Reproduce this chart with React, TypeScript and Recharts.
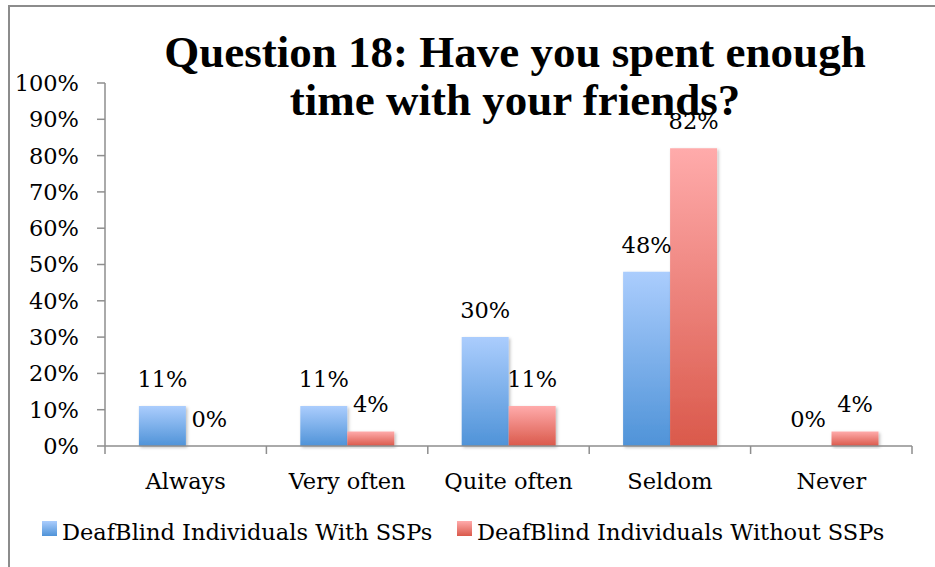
import React from 'react';
import { BarChart, Bar, XAxis, YAxis, LabelList } from 'recharts';

const categories = ['Always', 'Very often', 'Quite often', 'Seldom', 'Never'];
const withSSPs = [0.11, 0.11, 0.3, 0.48, 0.0];
const withoutSSPs = [0.0, 0.04, 0.11, 0.82, 0.04];
const seriesNames = ['DeafBlind Individuals With SSPs', 'DeafBlind Individuals Without SSPs'];
const yTicks = [0, 0.1, 0.2, 0.3, 0.4, 0.5, 0.6, 0.7, 0.8, 0.9, 1.0];
const titleLines = ['Question 18: Have you spent enough', 'time with your friends?'];

const data = categories.map((c, i) => ({ name: c, with: withSSPs[i], without: withoutSSPs[i] }));

const W = 935;
const H = 567;
const LEFT = 105;
const RIGHT = 23;
const PLOT_W = W - LEFT - RIGHT;
const HALF_BAND = PLOT_W / categories.length / 2;
const AXIS_COLOR = '#8e8e8e';
const FONT = '"DejaVu Serif", serif';
const FS = 22.5;

const pct = (v: number) => `${Math.round(v * 100)}%`;
// keep zero-value bars in the layout (invisible sliver) so their labels are drawn
const minSize = (v: number) => (v === 0 ? 0.01 : 0);

const XTick = (props: any) => {
  const { x, y, payload, index } = props;
  const isLast = index === categories.length - 1;
  return (
    <g>
      <line x1={x - HALF_BAND} x2={x - HALF_BAND} y1={y} y2={y + 8} stroke={AXIS_COLOR} strokeWidth={1.5} />
      {isLast && (
        <line x1={x + HALF_BAND} x2={x + HALF_BAND} y1={y} y2={y + 8} stroke={AXIS_COLOR} strokeWidth={1.5} />
      )}
      <text x={x} y={y + 43} textAnchor="middle" fontFamily={FONT} fontSize={FS} fill="#000">
        {payload.value}
      </text>
    </g>
  );
};

const ValueLabel = (props: any) => {
  const { x, y, width, height, value } = props;
  if (value === undefined || value === null) return null;
  const top = Math.min(y, y + height);
  return (
    <text x={x + width / 2} y={top - 19} textAnchor="middle" fontFamily={FONT} fontSize={FS} fill="#000">
      {pct(value)}
    </text>
  );
};

const gradients = (
  <defs>
    <linearGradient id="gBlue" x1="0" y1="0" x2="0" y2="1">
      <stop offset="0%" stopColor="#abcdfd" />
      <stop offset="100%" stopColor="#4f93d8" />
    </linearGradient>
    <linearGradient id="gRed" x1="0" y1="0" x2="0" y2="1">
      <stop offset="0%" stopColor="#ffabab" />
      <stop offset="100%" stopColor="#da594b" />
    </linearGradient>
    <filter id="shadow" x="-20%" y="-20%" width="140%" height="140%">
      <feDropShadow dx="1.5" dy="1.5" stdDeviation="1.5" floodColor="#000" floodOpacity="0.25" />
    </filter>
  </defs>
);

export default function App() {
  return (
    <div style={{ position: 'absolute', left: 0, top: 0, width: W, height: H, background: '#fff', overflow: 'hidden' }}>
      <div
        style={{
          position: 'absolute',
          left: 8,
          top: 5,
          width: W,
          height: H,
          borderLeft: '2px solid #8c8c8c',
          borderTop: '2px solid #8c8c8c',
          boxSizing: 'border-box',
        }}
      />
      <div style={{ position: 'absolute', left: 0, top: 0 }}>
        <BarChart
          width={W}
          height={H}
          data={data}
          margin={{ top: 83, right: RIGHT, bottom: 61, left: 0 }}
          barCategoryGap="21%"
          barGap={0}
        >
          {gradients}
          <XAxis
            dataKey="name"
            height={60}
            axisLine={{ stroke: AXIS_COLOR, strokeWidth: 1.5 }}
            tickLine={false}
            tickSize={0}
            tickMargin={0}
            interval={0}
            tick={<XTick />}
          />
          <YAxis
            width={LEFT}
            domain={[0, 1]}
            ticks={yTicks}
            interval={0}
            tickFormatter={pct}
            axisLine={{ stroke: AXIS_COLOR, strokeWidth: 1.5 }}
            tickLine={{ stroke: AXIS_COLOR, strokeWidth: 1.5 }}
            tickSize={8}
            tickMargin={18}
            tick={{ fontFamily: FONT, fontSize: FS, fill: '#000' }}
          />
          <Bar dataKey="with" name={seriesNames[0]} fill="url(#gBlue)" isAnimationActive={false} filter="url(#shadow)" minPointSize={minSize}>
            <LabelList dataKey="with" content={<ValueLabel />} />
          </Bar>
          <Bar dataKey="without" name={seriesNames[1]} fill="url(#gRed)" isAnimationActive={false} filter="url(#shadow)" minPointSize={minSize}>
            <LabelList dataKey="without" content={<ValueLabel />} />
          </Bar>
        </BarChart>
      </div>
      <svg width={W} height={H} style={{ position: 'absolute', left: 0, top: 0, pointerEvents: 'none' }}>
        <defs>
          <linearGradient id="lgBlue" x1="0" y1="0" x2="0" y2="1">
            <stop offset="0%" stopColor="#abcdfd" />
            <stop offset="100%" stopColor="#4f93d8" />
          </linearGradient>
          <linearGradient id="lgRed" x1="0" y1="0" x2="0" y2="1">
            <stop offset="0%" stopColor="#ffabab" />
            <stop offset="100%" stopColor="#da594b" />
          </linearGradient>
        </defs>
        <text x={515} y={67} textAnchor="middle" fontFamily='"Liberation Serif", serif' fontWeight="bold" fontSize={45} fill="#000">
          {titleLines[0]}
        </text>
        <text x={515} y={115} textAnchor="middle" fontFamily='"Liberation Serif", serif' fontWeight="bold" fontSize={45} fill="#000">
          {titleLines[1]}
        </text>
        <rect x={42} y={521} width={15} height={15} fill="url(#lgBlue)" />
        <text x={62} y={540} fontFamily={FONT} fontSize={FS} fill="#000">{seriesNames[0]}</text>
        <rect x={457} y={521} width={15} height={15} fill="url(#lgRed)" />
        <text x={477} y={540} fontFamily={FONT} fontSize={FS} fill="#000">{seriesNames[1]}</text>
      </svg>
    </div>
  );
}
